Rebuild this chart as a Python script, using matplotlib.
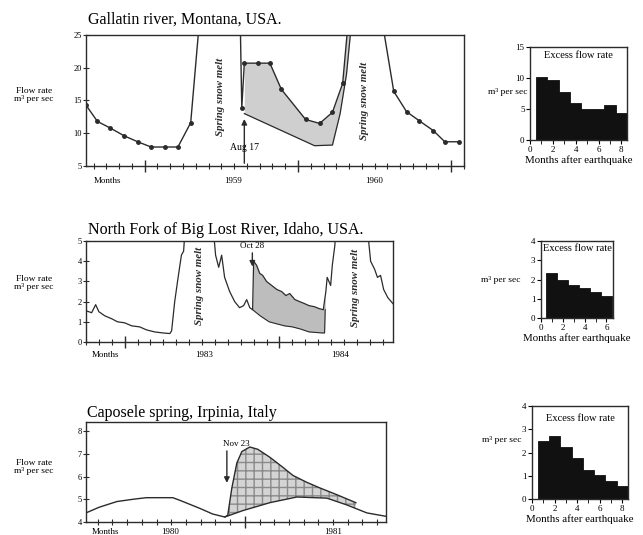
import numpy as np
import matplotlib
matplotlib.use("Agg")
import matplotlib.pyplot as plt
from matplotlib.ticker import MultipleLocator, FixedLocator

plt.rcParams['font.family'] = ['Liberation Serif', 'DejaVu Serif']

# Gallatin river (months from Jan 1959), flow in m3/s
gal_t = [-4.6, -3.7, -2.7, -1.6, -0.55, 0.5, 1.55, 2.6, 3.6, 4.5, 7.4, 7.6, 7.8, 8.9, 9.8,
         10.7, 12.6, 13.7, 14.7, 15.5, 16.3, 18.3, 18.6, 19.5, 20.5, 21.5, 22.6, 23.5, 24.6]
gal_q = [14.3, 11.8, 10.8, 9.6, 8.7, 7.9, 7.9, 7.9, 11.6, 32, 36, 13.9, 20.7, 20.7, 20.7,
         16.7, 12.1, 11.5, 13.2, 17.6, 35, 40, 27, 16.4, 13.3, 11.9, 10.4, 8.7, 8.7]
gal_base_t = [7.8, 13.3, 14.7, 15.3, 15.8, 16.1, 16.3]
gal_base_q = [13.0, 8.1, 8.2, 13.0, 19.0, 25.0, 35]
gal_bars = [10.2, 9.7, 7.7, 5.9, 5.0, 5.0, 5.6, 4.4]

# North Fork of Big Lost River (months from Jan 1983)
nf_t = [-3.0, -2.56, -2.25, -2.0, -1.55, -1.0, -0.55, 0.0, 0.55, 1.16, 1.7, 2.33, 2.95, 3.5,
        3.64, 3.88, 4.1, 4.26, 4.4, 4.57, 4.73, 6.82, 7.05, 7.29, 7.52, 7.75, 8.14, 8.53, 8.91,
        9.22, 9.46, 9.7, 9.92, 10.0, 10.23, 10.47, 10.7, 11.0, 11.4, 11.8, 12.17, 12.5, 12.8,
        13.2, 13.57, 13.95, 14.3, 14.7, 15.1, 15.4, 15.6, 15.7, 15.97, 16.1, 16.3, 16.4,
        18.76, 19.07, 19.38, 19.6, 19.84, 20.08, 20.4, 20.8]
nf_q = [1.55, 1.45, 1.85, 1.5, 1.3, 1.15, 1.0, 0.95, 0.8, 0.75, 0.6, 0.5, 0.45, 0.42,
        0.55, 2.0, 3.0, 3.7, 4.3, 4.5, 6.0, 6.0, 4.3, 3.7, 4.3, 3.2, 2.5, 2.0, 1.7,
        1.8, 2.1, 1.7, 1.6, 4.0, 3.8, 3.4, 3.3, 3.0, 2.8, 2.6, 2.5, 2.3, 2.4,
        2.1, 2.0, 1.9, 1.8, 1.75, 1.65, 1.6, 2.5, 3.2, 2.8, 3.8, 4.8, 6.0,
        6.0, 4.0, 3.6, 3.2, 3.3, 2.6, 2.2, 1.9]
nf_base_t = [9.92, 10.5, 11.2, 11.8, 12.4, 13.0, 13.6, 14.3, 15.3, 15.5, 15.55]
nf_base_q = [1.6, 1.3, 1.0, 0.9, 0.8, 0.75, 0.65, 0.5, 0.45, 0.45, 1.6]
nf_bars = [2.32, 1.97, 1.72, 1.55, 1.37, 1.15]

# Caposele spring (months from Jan 1981)
cap_t = [-10.8, -9.9, -8.7, -7.6, -6.7, -4.9, -4.4, -3.06, -2.18, -1.36, -1.16, -0.88,
         -0.54, -0.2, 0.34, 0.88, 1.7, 2.6, 3.27, 4.2, 5.1, 6.26, 7.55]
cap_q = [4.4, 4.65, 4.9, 5.0, 5.07, 5.07, 4.95, 4.6, 4.35, 4.22, 4.3, 5.5,
         6.6, 7.1, 7.3, 7.2, 6.85, 6.4, 6.05, 5.75, 5.5, 5.2, 4.85]
cap_base_t = [-1.36, -0.14, 1.7, 3.54, 5.58, 6.94, 8.3, 9.6]
cap_base_q = [4.22, 4.5, 4.85, 5.1, 5.05, 4.75, 4.4, 4.25]
cap_bars = [2.51, 2.71, 2.23, 1.76, 1.26, 1.04, 0.76, 0.57]

ink = '#2b2b2b'
fig = plt.figure(figsize=(6.43, 5.35), dpi=100)


def style_series_axes(ax, xlim, ylim, yticks, major, years, year_pos, label_y):
    ax.set_xlim(*xlim)
    ax.set_ylim(*ylim)
    ax.set_yticks(yticks)
    ax.xaxis.set_major_locator(FixedLocator(major))
    ax.xaxis.set_minor_locator(MultipleLocator(1))
    ax.set_xticklabels([])
    ax.tick_params(axis='x', which='major', direction='inout', length=9, width=1, color=ink)
    ax.tick_params(axis='x', which='minor', direction='inout', length=4, width=0.8, color=ink)
    ax.tick_params(axis='y', direction='inout', length=4, width=0.8, labelsize=6, pad=1, color=ink)
    for s in ax.spines.values():
        s.set_color(ink)
        s.set_linewidth(1)
    tr = ax.get_xaxis_transform()
    ax.text(0.02, label_y, 'Months', transform=ax.transAxes, fontsize=6.5, va='center')
    for y, p in zip(years, year_pos):
        ax.text(p, label_y, y, transform=tr, fontsize=6.5, ha='center', va='center')


def draw_bars(ax, vals, xmax, ymax, yticks, title_y):
    months = np.arange(1, len(vals) + 1)
    ax.bar(months, vals, width=1.0, color='#111111', edgecolor='#111111', linewidth=0.6)
    ax.set_xlim(0, xmax)
    ax.set_ylim(0, ymax)
    ax.set_yticks(yticks)
    ax.xaxis.set_major_locator(MultipleLocator(2))
    ax.xaxis.set_minor_locator(MultipleLocator(1))
    ax.tick_params(axis='both', which='major', direction='out', length=3, labelsize=6.5, pad=1)
    ax.tick_params(axis='x', which='minor', direction='out', length=3)
    ax.set_xlabel('Months after earthquake', fontsize=7.8, labelpad=1)
    ax.text(0.5, title_y, 'Excess flow rate', transform=ax.transAxes, fontsize=7.5,
            ha='center', va='center')
    for s in ax.spines.values():
        s.set_color(ink)
        s.set_linewidth(1)


def melt_label(ax, x, y):
    ax.text(x, y, 'Spring snow melt', rotation=90, fontsize=7.8, fontweight='bold',
            fontstyle='italic', ha='center', va='center', color=ink)


# ---- Gallatin river ----
ax1 = fig.add_axes([0.1337, 0.6897, 0.5879, 0.2449])
ax1.plot(gal_t, gal_q, color=ink, lw=1, marker='o', ms=2.5)
ax1.plot(gal_base_t, gal_base_q, color=ink, lw=0.9)
g = np.linspace(gal_base_t[0], gal_base_t[-1], 300)
ax1.fill_between(g, np.interp(g, gal_t, gal_q), np.interp(g, gal_base_t, gal_base_q),
                 color='#cfcfcf', lw=0)
style_series_axes(ax1, (-4.6, 25.0), (5, 25), [5, 10, 15, 20, 25], [0, 12, 24],
                  ['1959', '1960'], [6.9, 18.0], -0.115)
melt_label(ax1, 5.9, 15.5)
melt_label(ax1, 17.2, 15.0)
ax1.annotate('', xy=(7.8, 12.6), xytext=(7.8, 5.0),
             arrowprops=dict(arrowstyle='-|>', color=ink, lw=1, mutation_scale=8))
ax1.text(7.8, 7.8, 'Aug 17', fontsize=7, ha='center', va='center')
ax1.text(0.005, 1.115, 'Gallatin river, Montana, USA.', transform=ax1.transAxes,
         fontsize=11.5, ha='left', va='center')

# ---- North Fork of Big Lost River ----
ax2 = fig.add_axes([0.1337, 0.3607, 0.4774, 0.1888])
ax2.plot(nf_t, nf_q, color=ink, lw=0.9)
ax2.plot(nf_base_t, nf_base_q, color=ink, lw=0.8)
g = np.linspace(nf_base_t[0], nf_base_t[-1], 300)
ax2.fill_between(g, np.interp(g, nf_t, nf_q), np.interp(g, nf_base_t, nf_base_q),
                 color='#bdbdbd', lw=0)
style_series_axes(ax2, (-3.0, 20.8), (0, 5), [0, 1, 2, 3, 4, 5], [0, 12],
                  ['1983', '1984'], [6.2, 16.7], -0.13)
melt_label(ax2, 5.8, 2.8)
melt_label(ax2, 17.9, 2.7)
ax2.annotate('', xy=(9.9, 3.6), xytext=(9.9, 4.55),
             arrowprops=dict(arrowstyle='-|>', color=ink, lw=1, mutation_scale=8))
ax2.text(9.9, 4.75, 'Oct 28', fontsize=6.5, ha='center', va='center')
ax2.text(0.005, 1.11, 'North Fork of Big Lost River, Idaho, USA.', transform=ax2.transAxes,
         fontsize=11.5, ha='left', va='center')

# ---- Caposele spring ----
ax3 = fig.add_axes([0.1337, 0.0243, 0.4666, 0.1869])
ax3.plot(cap_t, cap_q, color=ink, lw=1)
ax3.plot(cap_base_t, cap_base_q, color=ink, lw=1)
g = np.linspace(cap_t[9], cap_t[-1], 300)
ax3.fill_between(g, np.interp(g, cap_t, cap_q), np.interp(g, cap_base_t, cap_base_q),
                 facecolor='#d4d4d4', edgecolor='#8a8a8a', hatch='++', lw=0)
style_series_axes(ax3, (-10.8, 9.6), (4, 8.4), [4, 5, 6, 7, 8], [0],
                  ['1980', '1981'], [-5.1, 6.0], -0.1)
ax3.annotate('', xy=(-1.22, 5.6), xytext=(-1.22, 7.25),
             arrowprops=dict(arrowstyle='-|>', color=ink, lw=1, mutation_scale=8))
ax3.text(-0.6, 7.45, 'Nov 23', fontsize=6.5, ha='center', va='center')
ax3.text(0.005, 1.09, 'Caposele spring, Irpinia, Italy', transform=ax3.transAxes,
         fontsize=11.5, ha='left', va='center')

# y labels of the flow panels
for yc in [95, 283, 467]:
    fig.text(34 / 643, 1 - yc / 535, 'Flow rate\nm³ per sec', fontsize=6.8,
             ha='center', va='center', linespacing=1.1)

# ---- excess flow bar charts ----
b1 = fig.add_axes([0.8243, 0.7383, 0.1509, 0.1738])
draw_bars(b1, gal_bars, 8.5, 15, [0, 5, 10, 15], 0.91)
b1.text(-0.23, 0.52, 'm³ per sec', transform=b1.transAxes, fontsize=6.8, ha='center', va='center')

b2 = fig.add_axes([0.8414, 0.4056, 0.1120, 0.1439])
draw_bars(b2, nf_bars, 6.6, 4, [0, 1, 2, 3, 4], 0.9)
b2.text(-0.56, 0.49, 'm³ per sec', transform=b2.transAxes, fontsize=6.8, ha='center', va='center')

b3 = fig.add_axes([0.8274, 0.0673, 0.1493, 0.1738])
draw_bars(b3, cap_bars, 8.5, 4, [0, 1, 2, 3, 4], 0.87)
b3.text(-0.32, 0.63, 'm³ per sec', transform=b3.transAxes, fontsize=6.8, ha='center', va='center')

fig.savefig('out.png', dpi=100)
